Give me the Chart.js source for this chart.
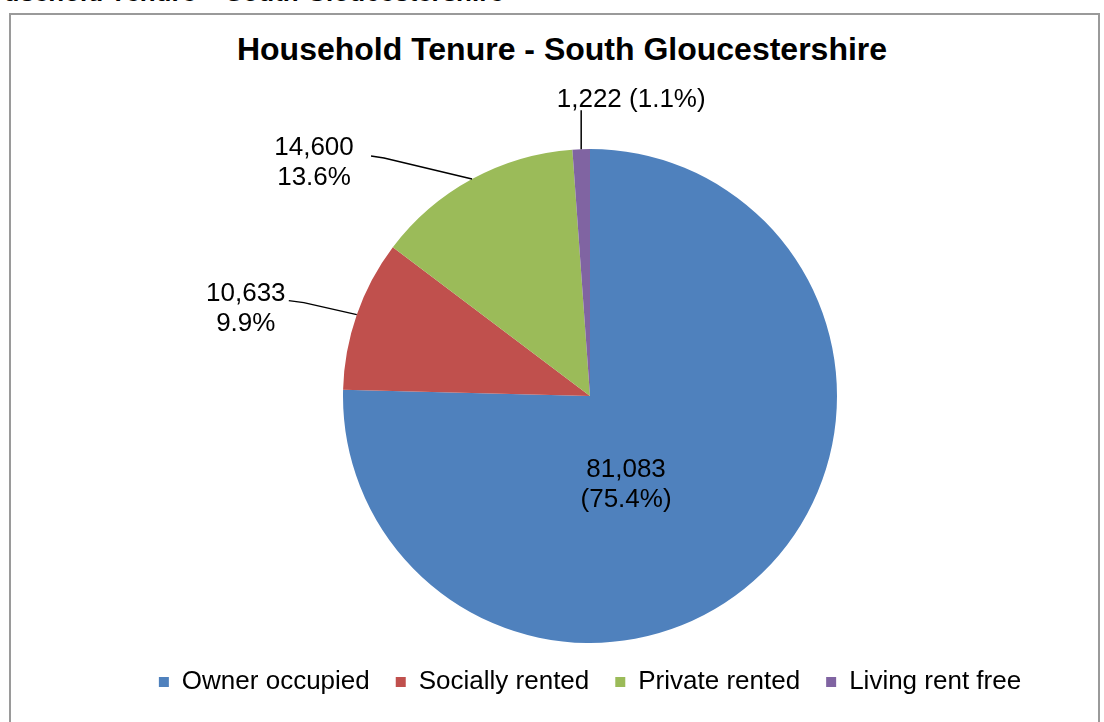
<!DOCTYPE html>
<html>
<head>
<meta charset="utf-8">
<script src="https://cdn.jsdelivr.net/npm/chart.js@4"></script>
<style>
  html, body { margin: 0; padding: 0; background: #fff; overflow: hidden; }
  body { width: 1104px; height: 722px; position: relative; font-family: Arial, "Liberation Sans", sans-serif; }
  #heading { position: absolute; left: -30px; top: -23px; font: italic bold 26px Arial, "Liberation Sans", sans-serif; white-space: nowrap; color: #000; }
  #frame { position: absolute; left: 9px; top: 13px; width: 1087px; height: 730px; border: 2px solid #9a9a9a; }
  #title { position: absolute; left: 0; width: 1124px; top: 31px; text-align: center; font: bold 32px Arial, "Liberation Sans", sans-serif; color: #000; white-space: nowrap; }
  canvas { position: absolute; left: 0; top: 0; }
</style>
</head>
<body>
<div id="heading">Household Tenure – South Gloucestershire</div>
<div id="frame"></div>
<div id="title">Household Tenure - South Gloucestershire</div>
<canvas id="pie" width="1104" height="722"></canvas>
<script>
const categories = ['Owner occupied', 'Socially rented', 'Private rented', 'Living rent free'];
const households = [81083, 10633, 14600, 1222];
const shares = [75.4, 9.9, 13.6, 1.1];
const colours = ['#4F81BD', '#C0504D', '#9BBB59', '#8064A2'];

const fmt = (n) => n.toLocaleString('en-GB');

// label text, one entry per slice
const labelLines = [
  [fmt(households[0]), '(' + shares[0] + '%)'],
  [fmt(households[1]), shares[1] + '%'],
  [fmt(households[2]), shares[2] + '%'],
  [fmt(households[3]) + ' (' + shares[3] + '%)'],
];

// where each label goes, relative to the slice's outer edge (leader) or to the centre
const labelPlace = [
  { inside: true, dx: 0.146, dy: 0.36 },
  { bend: [-53, -12], end: [-68, -14], text: [-111, -6] },
  { bend: [-88, -21], end: [-101, -23], text: [-158, -16] },
  { bend: [0, -39], end: [0, -39], text: [50, -49] },
];

const dataLabels = {
  id: 'dataLabels',
  afterDatasetsDraw(chart) {
    const ctx = chart.ctx;
    const meta = chart.getDatasetMeta(0);
    ctx.save();
    ctx.font = '26px Arial, "Liberation Sans", sans-serif';
    ctx.fillStyle = '#000';
    ctx.strokeStyle = '#000';
    ctx.lineWidth = 1.5;
    ctx.textAlign = 'center';
    ctx.textBaseline = 'middle';
    const lh = 30;
    meta.data.forEach((arc, i) => {
      const p = labelPlace[i];
      const lines = labelLines[i];
      const r = arc.outerRadius;
      let cx, cy;
      if (p.inside) {
        cx = arc.x + p.dx * r;
        cy = arc.y + p.dy * r;
      } else {
        const mid = (arc.startAngle + arc.endAngle) / 2;
        const ex = arc.x + Math.cos(mid) * r;
        const ey = arc.y + Math.sin(mid) * r;
        ctx.beginPath();
        ctx.moveTo(ex, ey);
        ctx.lineTo(ex + p.bend[0], ey + p.bend[1]);
        ctx.lineTo(ex + p.end[0], ey + p.end[1]);
        ctx.stroke();
        cx = ex + p.text[0];
        cy = ey + p.text[1];
      }
      const top = cy - (lines.length - 1) * lh / 2;
      lines.forEach((t, k) => ctx.fillText(t, cx, top + k * lh));
    });
    ctx.restore();
  },
};

new Chart(document.getElementById('pie'), {
  type: 'pie',
  data: {
    labels: categories,
    datasets: [{
      data: households,
      backgroundColor: colours,
      borderWidth: 0,
    }],
  },
  options: {
    responsive: false,
    animation: false,
    layout: { padding: { left: 76, right: 0, top: 149, bottom: 17 } },
    plugins: {
      title: { display: false },
      tooltip: { enabled: false },
      legend: {
        position: 'bottom',
        labels: {
          boxWidth: 10,
          boxHeight: 10,
          padding: 26,
          color: '#000',
          font: { family: 'Arial, "Liberation Sans", sans-serif', size: 26 },
        },
      },
    },
  },
  plugins: [dataLabels],
});
</script>
</body>
</html>
